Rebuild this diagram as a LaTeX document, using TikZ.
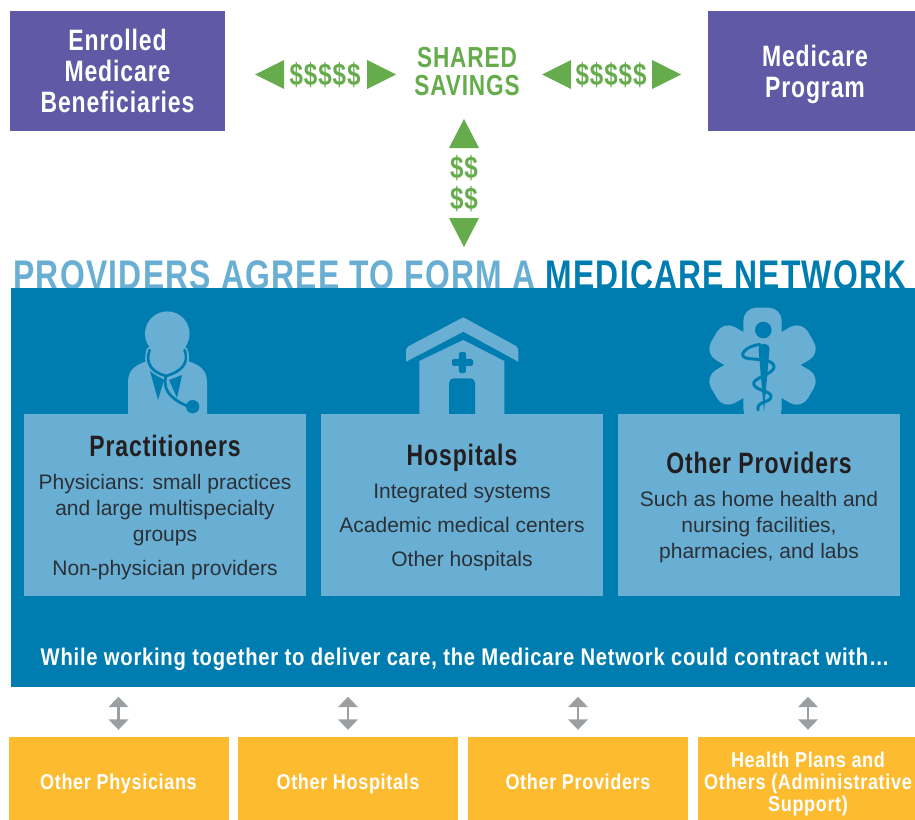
\documentclass[tikz,border=0pt]{standalone}
\usepackage{fontspec}
\usetikzlibrary{arrows.meta}
\setmainfont{Liberation Sans}
\newfontfamily\cond[FakeStretch=0.78,LetterSpace=3]{Liberation Sans}
\newfontfamily\condwide[FakeStretch=0.84,LetterSpace=3]{Liberation Sans}
\newfontfamily\condtitle[FakeStretch=0.77,LetterSpace=3]{Liberation Sans}
\definecolor{cpurple}{HTML}{5F59A6}
\definecolor{cgreen}{HTML}{66AC4D}
\definecolor{cblue}{HTML}{007DB0}
\definecolor{clight}{HTML}{69AFD4}
\definecolor{corange}{HTML}{FDBB30}
\definecolor{cgray}{HTML}{9C9FA2}
\definecolor{cdark}{HTML}{231F20}
\newcommand{\fsz}[2]{\fontsize{#1}{#2}\selectfont}
\tikzset{
  x=1pt,y=-1pt,
  topbox/.style={fill=cpurple,text=white,inner sep=0pt,align=center,font=\cond\bfseries\fsz{29.5}{31},minimum width=215pt,minimum height=120pt},
  card/.style={fill=clight,inner sep=0pt,minimum width=282pt,minimum height=182pt},
  orangebox/.style={fill=corange,text=white,inner sep=0pt,align=center,font=\condwide\bfseries\fsz{21.5}{22},minimum height=94pt,minimum width=220pt},
  greentext/.style={text=cgreen,inner sep=0pt,align=center,font=\cond\bfseries\fsz{29}{28}},
  dollars/.style={text=cgreen,inner sep=0pt,align=center,font=\cond\bfseries\fsz{31}{31}},
  head/.style={text=cdark,inner sep=0pt,font=\cond\bfseries\fsz{29.5}{30}},
  body/.style={text=cdark!88!clight,inner sep=0pt,align=center,font=\fsz{21}{26}},
  twoway/.style={cgray,line width=2.6pt,{Triangle[width=19.5pt,length=10.5pt]}-{Triangle[width=19.5pt,length=10.5pt]},shorten >=7pt,shorten <=9.5pt},
  icon/.style={fill=clight,draw=none},
  cut/.style={fill=cblue,draw=none},
  cutline/.style={draw=cblue,line cap=round,line join=round,fill=none},
}
\begin{document}
\begin{tikzpicture}
\useasboundingbox (0,0) rectangle (915,819);
\clip (0,0) rectangle (915,819);
% title (its foot is overlapped by the network panel)
\node[inner sep=0pt,anchor=base,font=\condtitle\bfseries\fsz{41.4}{42}] (title) at (460,289.5) {\textcolor{clight}{PROVIDERS AGREE TO FORM A} \textcolor{cblue}{MEDICARE NETWORK}};
\node[fill=cblue,inner sep=0pt,minimum width=904pt,minimum height=399pt] (net) at (463,487.5) {};
% top row
\node[topbox] (benef) at (117.5,71) {\raisebox{-1pt}{Enrolled}\\\raisebox{-1pt}{Medicare}\\\raisebox{-1pt}{Beneficiaries}};
\node[topbox,text height=0pt] (prog) at (815.5,71) {};
\node[inner sep=0pt,align=center,text=white,font=\cond\bfseries\fsz{29.5}{31}] (progtext) at (815,74.5) {Medicare\\Program};
\node[greentext] (shared) at (467,72) {SHARED\\SAVINGS};
\node[dollars] (dl) at (325,75) {\$\$\$\$\$};
\node[dollars] (dr) at (611,75) {\$\$\$\$\$};
\node[dollars] (dv1) at (464,168) {\$\$};
\node[dollars] (dv2) at (464,199) {\$\$};
\fill[cgreen] (284,60) -- (255,74.5) -- (284,89) -- cycle;
\fill[cgreen] (367,60) -- (396,74.5) -- (367,89) -- cycle;
\fill[cgreen] (571,60) -- (542,74.5) -- (571,89) -- cycle;
\fill[cgreen] (652,60) -- (681,74.5) -- (652,89) -- cycle;
\fill[cgreen] (449,148) -- (464,119) -- (479,148) -- cycle;
\fill[cgreen] (449,218) -- (464,247) -- (479,218) -- cycle;
% icons: practitioner
\fill[icon] (128,415) -- (128,382) .. controls (128,368) and (138,364) .. (150,360) -- (185,360) .. controls (197,364) and (207,368) .. (207,382) -- (207,415) -- cycle;
\fill[icon] (150,345) rectangle (185,368);
\fill[cut] (150,371) -- (158,400) -- (164,380) -- cycle;
\fill[cut] (182,375) -- (177,398) -- (169,380) -- cycle;
\draw[draw=clight,line width=6pt,line cap=round] (149.5,350) .. controls (145,364) and (152,372) .. (166,376) .. controls (180,372) and (190,364) .. (184.5,350);
\draw[cutline,line width=2.7pt] (149.5,350) .. controls (145,364) and (152,372) .. (166,376) .. controls (180,372) and (190,364) .. (184.5,350);
\draw[cutline,line width=2.8pt] (166,376) .. controls (161,392) and (176,402) .. (190,407);
\fill[cut] (192.7,406.7) circle (6.7);
\fill[icon] (167.3,333.7) circle (22.3);
% icons: hospital
\fill[icon] (463.3,317.3) -- (516,346) .. controls (518,347) and (518.3,349) .. (518.3,352) -- (518.3,361.7) -- (463.3,331.7) -- (406,361.7) -- (406,352) .. controls (406,349) and (406.5,347) .. (409,346) -- cycle;
\fill[icon] (463.3,340) -- (504.3,361) -- (504.3,415) -- (419.3,415) -- (419.3,361) -- cycle;
\fill[cut,rounded corners=1.5pt] (458.8,352) rectangle (465.8,373);
\fill[cut,rounded corners=1.5pt] (452,358.8) rectangle (473,365.8);
\fill[cut,rounded corners=4.5pt] (449,419) -- (449,378.3) -- (475,378.3) -- (475,419) -- cycle;
% icons: star of life
\fill[icon,rounded corners=13pt] (743.3,307.7) rectangle (781.7,422);
\fill[icon,rounded corners=13pt,rotate around={60:(762.5,365)}] (743.5,309) rectangle (781.5,421);
\fill[icon,rounded corners=13pt,rotate around={-60:(762.5,365)}] (743.5,309) rectangle (781.5,421);
\fill[cut] (763.3,330) circle (8.3);
\fill[cut] (758.5,349) .. controls (758.5,342) and (769.5,342) .. (769.5,349) -- (764,412) -- cycle;
\draw[cutline,line width=3pt] (760,344.5) .. controls (745,346) and (738,356) .. (746,358) .. controls (752,360) and (772,358) .. (774,366) .. controls (776,374) and (750,378) .. (754,385) .. controls (757,391) and (772,391) .. (771,397) .. controls (770,403) and (756,401) .. (758,410);
% cards
\node[card] (c1) at (165,505) {};
\node[card] (c2) at (462,505) {};
\node[card] (c3) at (759,505) {};
\node[head] (h1) at (165,446) {Practitioners};
\node[head] (h2) at (462,458) {Hospitals};
\node[head] (h3) at (759,463) {Other Providers};
\node[body] (b1a) at (165,510) {Physicians: small practices\\and large multispecialty\\groups};
\node[body] (b1b) at (165,570) {Non-physician providers};
\node[body] (b2a) at (462,493) {Integrated systems};
\node[body] (b2b) at (462,525) {Academic medical centers};
\node[body] (b2c) at (462,561) {Other hospitals};
\node[body] (b3) at (759,527) {Such as home health and\\nursing facilities,\\pharmacies, and labs};
\node[inner sep=0pt,text=white,font=\condwide\bfseries\fsz{24.1}{24}] (contract) at (465,659.5) {While working together to deliver care, the Medicare Network could contract with…};
% bottom row
\node[orangebox,text height=15pt,text depth=5pt] (o1) at (118.5,784) {Other Physicians};
\node[orangebox,text height=15pt,text depth=5pt] (o2) at (348,784) {Other Hospitals};
\node[orangebox,text height=15pt,text depth=5pt] (o3) at (578,784) {Other Providers};
\node[orangebox] (o4) at (808,784) {Health Plans and\\Others (Administrative\\Support)};
\draw[twoway] (net.south -| o1.north) -- (o1.north);
\draw[twoway] (net.south -| o2.north) -- (o2.north);
\draw[twoway] (net.south -| o3.north) -- (o3.north);
\draw[twoway] (net.south -| o4.north) -- (o4.north);
\end{tikzpicture}
\end{document}
